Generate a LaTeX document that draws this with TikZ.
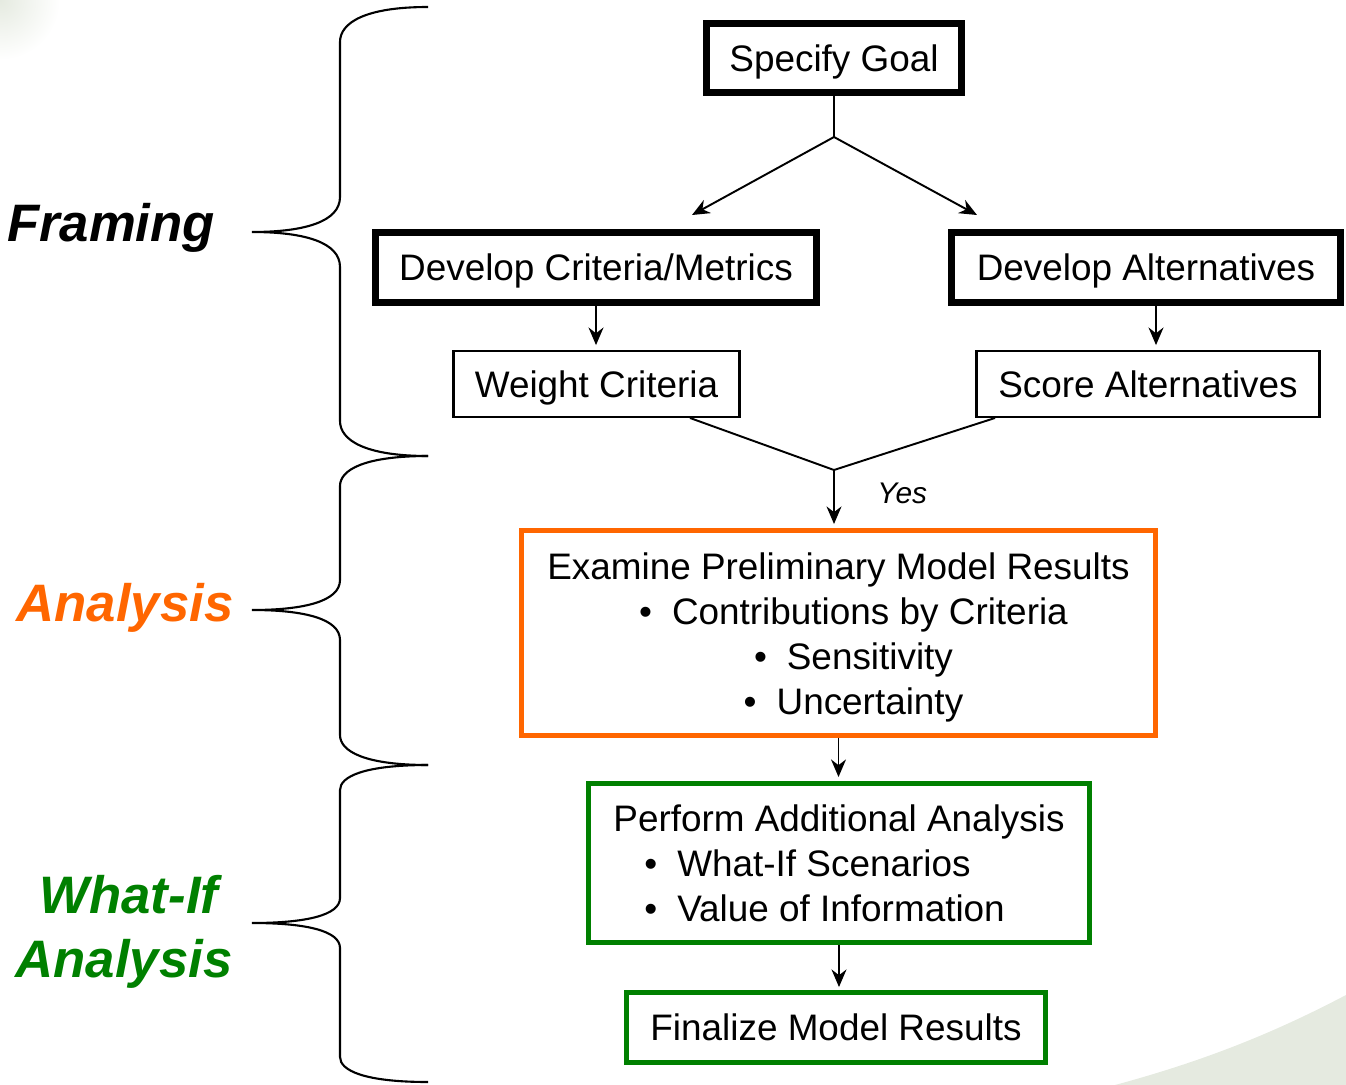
\documentclass[tikz,border=0pt]{standalone}
\usepackage{fontspec}
\setmainfont{Liberation Sans}
\usepackage{tikz}
\usetikzlibrary{positioning,arrows.meta}

\definecolor{stageorange}{RGB}{255,102,0}
\definecolor{stagegreen}{RGB}{0,128,0}
\definecolor{slidegreen}{RGB}{229,234,224}

\tikzset{
    boxtext/.style={font=\fontsize{21}{25.6}\selectfont, inner sep=0pt},
    oneline/.style={text height=17.5pt, text depth=2.2pt},
    heavybox/.style={draw, boxtext, oneline, line width=4pt},
    plainbox/.style={draw, boxtext, oneline, line width=1.4pt},
    orangebox/.style={draw=stageorange, boxtext, line width=2.8pt},
    greenbox/.style={draw=stagegreen, boxtext, line width=2.8pt},
    link/.style={line width=1.1pt},
    flow/.style={link, -{Stealth[length=10pt,width=8.5pt]}},
    stage/.style={font=\fontsize{30}{36}\selectfont\bfseries\itshape, anchor=base}
}

\begin{document}
\begin{tikzpicture}[x=0.02cm, y=-0.02cm]

    \useasboundingbox (0,0) rectangle (1346,1085);

    % Slide background
    \shade[inner color=slidegreen, outer color=white] (0,0) circle [radius=1.2cm];
    \fill[slidegreen] (1346,995) .. controls (1270,1035) and (1200,1062) .. (1115,1085)
        -- (1346,1085) -- cycle;

    % Braces
    \foreach \ya/\yb/\yc/\rr in {7/232/456/35, 456/610/765/30, 765/923/1082/25}
        \draw[line width=1.2pt] (428,\ya) .. controls (365,\ya) and (340,\ya+0.45*\rr) .. (340,\ya+\rr)
            -- (340,\yb-\rr) .. controls (340,\yb-0.3*\rr) and (305,\yb) .. (252,\yb)
            .. controls (305,\yb) and (340,\yb+0.3*\rr) .. (340,\yb+\rr)
            -- (340,\yc-\rr) .. controls (340,\yc-0.45*\rr) and (365,\yc) .. (428,\yc);

    % Stage labels
    \node[stage] (framing) at (111,241) {Framing};
    \node[stage, text=stageorange] (analysis) at (125,621) {Analysis};
    \node[stage, text=stagegreen] (whatif) at (129,913) {What-If};
    \node[stage, text=stagegreen] (whatifb) at (124,977) {Analysis};

    % Framing boxes
    \node[heavybox,
        minimum width=5.1cm,
        minimum height=1.38cm
    ] (goal) at (834,58) {Specify Goal};

    \node[heavybox,
        minimum width=8.82cm,
        minimum height=1.4cm
    ] (crit) at (596,267.5) {Develop Criteria/Metrics};

    \node[heavybox,
        minimum width=7.8cm,
        minimum height=1.4cm
    ] (alts) at (1146,267.5) {Develop Alternatives};

    \node[plainbox,
        minimum width=5.72cm,
        minimum height=1.31cm
    ] (weight) at (596.5,384) {Weight Criteria};

    \node[plainbox,
        minimum width=6.87cm,
        minimum height=1.31cm
    ] (score) at (1148,384) {Score Alternatives};

    % Analysis box
    \node[orangebox,
        minimum width=12.68cm,
        minimum height=4.1cm,
        align=center
    ] (examine) at (838.5,633) {\rule{0pt}{20pt}Examine Preliminary Model Results\\
        \hspace*{0.6cm}•\hspace{0.4cm}Contributions by Criteria\\
        \hspace*{0.6cm}•\hspace{0.4cm}Sensitivity\\
        \hspace*{0.6cm}•\hspace{0.4cm}Uncertainty};

    % What-if boxes
    \node[greenbox,
        minimum width=10.02cm,
        minimum height=3.18cm,
        align=left
    ] (perform) at (839,863) {Perform Additional Analysis\\
        \hspace*{0.62cm}•\hspace{0.4cm}What-If Scenarios\\
        \hspace*{0.62cm}•\hspace{0.4cm}Value of Information};

    \node[greenbox, oneline,
        minimum width=8.38cm,
        minimum height=1.4cm
    ] (final) at (836,1027.5) {Finalize Model Results};

    % Connectors
    \coordinate (split) at (834,137);
    \coordinate (critin) at (692,215);
    \coordinate (altin) at (977,215);
    \coordinate (merge) at (834,470);

    \draw[link] (goal.south) -- (split);
    \draw[flow] (split) -- (critin);
    \draw[flow] (split) -- (altin);

    \draw[flow, shorten >=2.8pt] (crit.south) -- (crit.south |- weight.north);
    \draw[flow, shorten >=2.8pt] ([xshift=0.2cm]alts.south) -- ([xshift=0.2cm]alts.south |- score.north);

    \draw[link] ([xshift=1.87cm]weight.south) -- (merge) -- ([xshift=-3.06cm]score.south);
    \draw[flow, shorten >=2.3pt] (merge) -- (merge |- examine.north);
    \node[font=\fontsize{17}{20}\selectfont\itshape, inner sep=0pt, anchor=base west] (yes) at (877,503) {Yes};

    \draw[flow, shorten >=2.3pt] (examine.south) -- (examine.south |- perform.north);
    \draw[flow, shorten >=1.7pt] (perform.south) -- (perform.south |- final.north);

\end{tikzpicture}
\end{document}
